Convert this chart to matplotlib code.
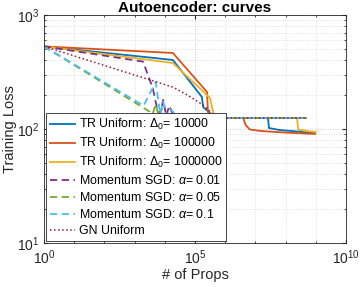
import numpy as np
import matplotlib.pyplot as plt
from matplotlib.ticker import LogLocator, NullFormatter

plt.rcParams['font.family'] = ['Liberation Sans', 'DejaVu Sans']
plt.rcParams['mathtext.fontset'] = 'custom'
plt.rcParams['mathtext.rm'] = 'Liberation Sans'
plt.rcParams['mathtext.it'] = 'Liberation Sans:italic'

# curves: x given as log10(# of props), y as training loss
tr1_x = [0, 4.27, 5.23, 5.27, 5.5, 5.66, 7.42, 7.45, 7.8, 8.4, 8.97]
tr1_y = [530, 403, 191, 156, 138, 125, 125, 102, 98, 95, 92]
tr2_x = [0, 4.27, 5.4, 5.43, 5.6, 5.66, 6.6, 6.68, 6.82, 7.2, 8.0, 8.97]
tr2_y = [530, 464, 211, 141, 128, 125, 125, 108, 99, 96, 93, 90.5]
tr3_x = [0, 4.27, 5.5, 5.57, 5.66, 8.38, 8.42, 8.7, 9.0]
tr3_y = [530, 379, 187, 153, 125, 125, 99, 96, 94]
sgd1_x = [0, 3.28, 3.6, 3.75, 3.85, 3.95, 4.05, 4.15, 4.3, 4.5, 5.0, 8.7]
sgd1_y = [530, 390, 230, 150, 135, 180, 130, 160, 128, 126, 125, 125]
sgd2_x = [0, 3.5, 3.6, 3.7, 3.8, 3.9, 4.0, 4.1, 4.3, 4.6, 5.0, 8.7]
sgd2_y = [530, 142, 135, 165, 130, 150, 128, 138, 127, 126, 125, 125]
sgd3_x = [0, 3.3, 3.7, 3.85, 3.95, 4.05, 4.2, 4.4, 5.0, 8.7]
sgd3_y = [530, 160, 258, 135, 175, 130, 150, 128, 125, 125]
gn_x = [0, 4.27, 4.8, 5.27, 5.6, 5.8, 8.7]
gn_y = [530, 233, 195, 162, 135, 125, 125]

labels = ['TR Uniform: $\\Delta_0$= 10000',
          'TR Uniform: $\\Delta_0$= 100000',
          'TR Uniform: $\\Delta_0$= 1000000',
          'Momentum SGD: $\\alpha$= 0.01',
          'Momentum SGD: $\\alpha$= 0.05',
          'Momentum SGD: $\\alpha$= 0.1',
          'GN Uniform']

fig = plt.figure(figsize=(3.6, 2.87), dpi=100)
ax = fig.add_axes([0.122, 0.153, 0.839, 0.795])

ax.plot(10**np.array(tr1_x), tr1_y, color=(0, 0.447, 0.741), lw=1.3, label=labels[0])
ax.plot(10**np.array(tr2_x), tr2_y, color=(0.85, 0.325, 0.098), lw=1.3, label=labels[1])
ax.plot(10**np.array(tr3_x), tr3_y, color=(0.929, 0.694, 0.125), lw=1.3, label=labels[2])
ax.plot(10**np.array(sgd1_x), sgd1_y, '--', color=(0.494, 0.184, 0.556), lw=1.3, label=labels[3], dashes=(4, 2.5))
ax.plot(10**np.array(sgd2_x), sgd2_y, '--', color=(0.466, 0.674, 0.188), lw=1.3, label=labels[4], dashes=(4, 2.5))
ax.plot(10**np.array(sgd3_x), sgd3_y, '--', color=(0.301, 0.745, 0.933), lw=1.3, label=labels[5], dashes=(4, 2.5))
ax.plot(10**np.array(gn_x), gn_y, ':', color=(0.635, 0.078, 0.184), lw=1.1, label=labels[6])

ax.set_xscale('log')
ax.set_yscale('log')
ax.set_xlim(1, 1e10)
ax.set_ylim(10, 1000)
ax.set_xticks([1, 1e5, 1e10])
ax.xaxis.set_minor_locator(LogLocator(base=10, subs=[1.0], numticks=20))
ax.xaxis.set_minor_formatter(NullFormatter())
ax.yaxis.set_minor_locator(LogLocator(base=10, subs=np.arange(2, 10), numticks=20))
ax.yaxis.set_minor_formatter(NullFormatter())

ax.grid(True, which='major', ls=':', color='#c8c8c8', lw=0.7)
ax.grid(True, which='minor', ls=':', color='#d8d8d8', lw=0.6)
ax.tick_params(which='both', direction='in', top=True, right=True, colors='#262626', labelsize=10)
ax.tick_params(which='major', length=3)
ax.tick_params(which='minor', length=1.6)
for s in ax.spines.values():
    s.set_color('#262626')
    s.set_linewidth(0.6)

ax.set_title('Autoencoder: curves', fontsize=11, fontweight='bold', pad=2)
ax.set_xlabel('# of Props', fontsize=10.5, color='#262626', labelpad=1)
ax.set_ylabel('Training Loss', fontsize=10.5, color='#262626', labelpad=0)

leg = ax.legend(loc='lower left', fontsize=8.9, handlelength=2.0, handletextpad=0.3,
                labelspacing=0.32, borderpad=0.3, borderaxespad=0.2, fancybox=False,
                framealpha=1, edgecolor='#262626')
leg.get_frame().set_linewidth(0.6)

fig.savefig('out.png', dpi=100)
